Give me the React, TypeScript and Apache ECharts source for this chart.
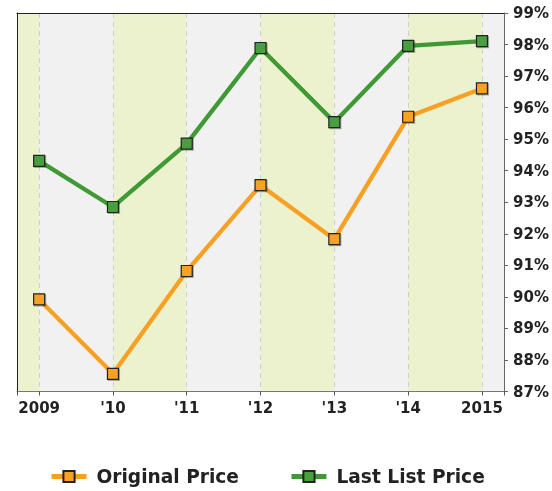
import React, { useEffect, useRef } from "react";
import * as echarts from "echarts";

const categories = ["2009", "'10", "'11", "'12", "'13", "'14", "2015"];
const originalPrice = [89.92, 87.56, 90.82, 93.54, 91.83, 95.71, 96.61];
const lastListPrice = [94.31, 92.85, 94.86, 97.89, 95.54, 97.96, 98.11];
const seriesNames = ["Original Price", "Last List Price"];

const FONT = "'DejaVu Sans', Verdana, sans-serif";

export default function App() {
  const ref = useRef<HTMLDivElement>(null);
  useEffect(() => {
    if (!ref.current) return;
    const chart = echarts.init(ref.current, undefined, { renderer: "svg" });
    const markerStyle = (fill: string) => ({
      color: fill,
      borderColor: "#222",
      borderWidth: 1.2,
      shadowColor: "rgba(0,0,0,0.3)",
      shadowBlur: 1,
      shadowOffsetX: 1,
      shadowOffsetY: 1,
    });
    const frameAxis = {
      axisLine: { show: true, onZero: false, lineStyle: { color: "#222", width: 1 } },
      axisTick: { show: false },
      axisLabel: { show: false },
      splitLine: { show: false },
      splitArea: { show: false },
    };
    chart.setOption({
      animation: false,
      grid: {
        left: 17,
        right: 46.5,
        top: 13,
        bottom: 99.5,
        show: false,
      },
      legend: {
        data: seriesNames,
        left: 44,
        top: 462,
        itemWidth: 35,
        itemHeight: 14,
        itemGap: 50,
        lineStyle: { width: 5 },
        textStyle: {
          fontFamily: FONT,
          fontWeight: "bold",
          fontSize: 18.6,
          color: "#222",
          padding: [0, 0, 0, 5],
        },
      },
      xAxis: [
        {
          type: "value",
          min: -0.3,
          max: 6.3,
          minInterval: 1,
          maxInterval: 1,
          splitNumber: 7,
          axisLine: { show: true, onZero: false, lineStyle: { color: "#777", width: 1 } },
          axisTick: { show: true, length: 4, lineStyle: { color: "#555" } },
          axisLabel: {
            margin: 9,
            fontFamily: FONT,
            fontWeight: "bold",
            fontSize: 15,
            color: "#222",
            formatter: (v: number) => {
              const i = Math.round(v);
              return Math.abs(v - i) < 1e-6 && categories[i] !== undefined ? categories[i] : "";
            },
          },
          splitLine: { show: true, lineStyle: { color: "#cfcfcf", type: [5, 4], width: 1 } },
          splitArea: { show: true, areaStyle: { color: ["#ecf2ce", "#f1f1f1"] } },
        },
        { type: "value", position: "top", min: -0.3, max: 6.3, ...frameAxis },
      ],
      yAxis: [
        {
          type: "value",
          position: "right",
          min: 87,
          max: 99,
          interval: 1,
          axisLine: { show: true, onZero: false, lineStyle: { color: "#666", width: 1 } },
          axisTick: { show: true, length: 4, lineStyle: { color: "#666" } },
          splitLine: { show: false },
          axisLabel: {
            margin: 9,
            fontFamily: FONT,
            fontWeight: "bold",
            fontSize: 15,
            color: "#222",
            formatter: (v: number) => `${v}%`,
          },
        },
        { type: "value", position: "left", min: 87, max: 99, ...frameAxis },
      ],
      series: [
        {
          name: seriesNames[0],
          type: "line",
          data: originalPrice.map((v, i) => [i, v]),
          symbol: "rect",
          symbolSize: 11,
          lineStyle: { color: "#f7a024", width: 4.3 },
          itemStyle: markerStyle("#f8a122"),
          z: 3,
        },
        {
          name: seriesNames[1],
          type: "line",
          data: lastListPrice.map((v, i) => [i, v]),
          symbol: "rect",
          symbolSize: 11,
          lineStyle: { color: "#3f9a36", width: 4.3 },
          itemStyle: markerStyle("#46a03c"),
          z: 3,
        },
      ],
    });
    return () => chart.dispose();
  }, []);
  return (
    <div
      ref={ref}
      style={{ position: "fixed", left: 0, top: 0, width: 552, height: 491 }}
    />
  );
}
